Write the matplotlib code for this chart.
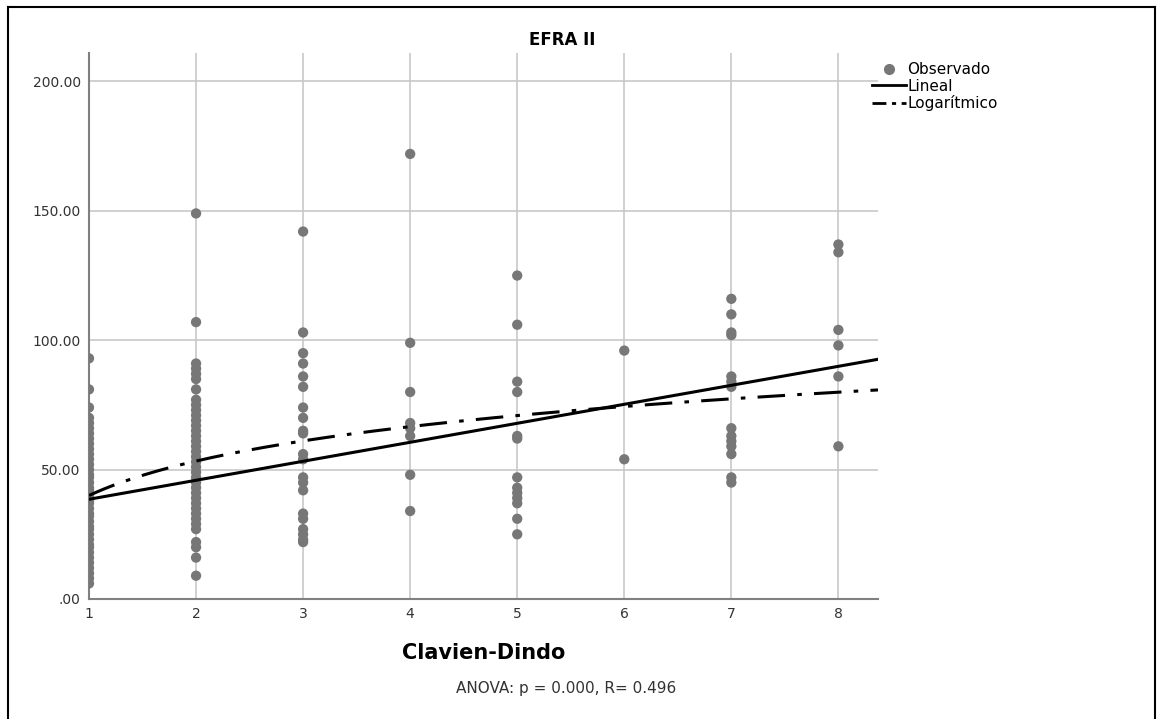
import numpy as np
import matplotlib.pyplot as plt
from matplotlib.lines import Line2D

grade1 = [93, 81, 74, 70, 68, 66, 64, 62, 60, 58, 56, 54, 52, 50, 48, 47, 45, 43, 42, 40,
          38, 37, 35, 33, 32, 30, 28, 27, 25, 23, 21, 20, 18, 16, 14, 12, 10, 8, 6]
grade2 = [149, 107, 91, 89, 87, 85, 81, 77, 75, 73, 71, 69, 67, 65, 63, 61, 59, 57, 55,
          53, 51, 49, 47, 45, 43, 41, 39, 37, 35, 33, 31, 29, 27, 22, 20, 16, 9]
grade3 = [142, 103, 95, 91, 86, 82, 74, 70, 65, 64, 56, 54, 47, 45, 42, 33, 31, 27, 25, 23, 22]
grade4 = [172, 99, 80, 68, 66, 63, 48, 34]
grade5 = [125, 106, 84, 80, 63, 62, 47, 43, 41, 39, 37, 31, 25]
grade6 = [96, 54]
grade7 = [116, 110, 103, 102, 86, 84, 82, 66, 63, 61, 59, 56, 47, 45]
grade8 = [137, 134, 104, 98, 86, 59]
groups = [grade1, grade2, grade3, grade4, grade5, grade6, grade7, grade8]

# fitted curves (coefficients)
lin_coef = (31.2, 7.34)   # y = a + b*x
log_coef = (40.0, 19.2)   # y = a + b*ln(x)

xmax = 8.37

fig = plt.figure(figsize=(11.61, 7.19), dpi=100)
ax = fig.add_axes([89 / 1161, 1 - 599 / 719, (878 - 89) / 1161, (599 - 53) / 719])

gray = '#777777'
for g, vals in enumerate(groups, start=1):
    ax.scatter([g] * len(vals), vals, s=55, color=gray, edgecolors='none', zorder=3)

xs = np.linspace(1, xmax, 200)
ax.plot(xs, lin_coef[0] + lin_coef[1] * xs, color='black', lw=2.2, zorder=4)
ax.plot(xs, log_coef[0] + log_coef[1] * np.log(xs), color='black', lw=2.2,
        dashes=(9, 4, 1.5, 4), zorder=4)

ax.set_xlim(1, xmax)
ax.set_ylim(0, 211)
ax.set_xticks(range(1, 9))
ax.set_yticks([0, 50, 100, 150, 200])
ax.set_yticklabels(['.00', '50.00', '100.00', '150.00', '200.00'])
ax.tick_params(length=0, labelsize=10, colors='#333333', pad=6)
ax.grid(True, color='#c8c8c8', lw=1.2)
ax.set_axisbelow(True)
for side in ['top', 'right']:
    ax.spines[side].set_visible(False)
for side in ['left', 'bottom']:
    ax.spines[side].set_color('#808080')
    ax.spines[side].set_linewidth(1.5)

fig.text(562 / 1161, 1 - 40 / 719, 'EFRA II', ha='center', va='center',
         fontsize=12, fontweight='bold')
fig.text(484 / 1161, 1 - 653 / 719, 'Clavien-Dindo', ha='center', va='center',
         fontsize=15, fontweight='bold')
fig.text(566 / 1161, 1 - 689 / 719, 'ANOVA: p = 0.000, R= 0.496', ha='center',
         va='center', fontsize=11, color='#333333')

handles = [
    Line2D([], [], marker='o', color=gray, ls='none', markersize=7),
    Line2D([], [], color='black', lw=2),
    Line2D([], [], color='black', lw=2, dashes=(5, 2, 1.5, 2)),
]
fig.legend(handles, ['Observado', 'Lineal', 'Logarítmico'], loc='upper left',
           bbox_to_anchor=(866 / 1161, 1 - 56 / 719), frameon=False, fontsize=11,
           handlelength=2.2, handletextpad=0.1, labelspacing=0.1, borderaxespad=0)

# outer frame (left and top edges)
fig.add_artist(Line2D([8 / 1161, 8 / 1161], [0, 1 - 7 / 719], color='black', lw=1.5))
fig.add_artist(Line2D([8 / 1161, 1155 / 1161], [1 - 7 / 719, 1 - 7 / 719], color='black', lw=1.5))
fig.add_artist(Line2D([1155 / 1161, 1155 / 1161], [0, 1 - 7 / 719], color='black', lw=1.5))

fig.savefig('out.png', dpi=100)
